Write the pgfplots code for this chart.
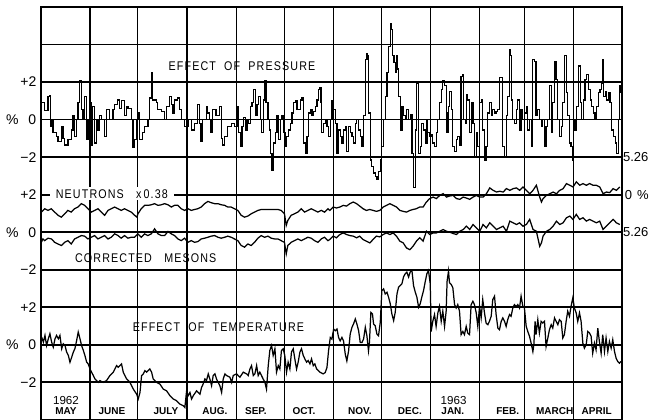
\documentclass[border=0pt]{standalone}
\usepackage{fontspec}
\setmainfont{Liberation Sans}
\newfontfamily\spaced[LetterSpace=9, FakeStretch=0.85]{Liberation Sans}
\usepackage{pgfplots}
\pgfplotsset{compat=1.18}
\usepackage{pgfplotstable}
\usetikzlibrary{calc}

% Effect of pressure (%), day of year from 1 May 1962
\pgfplotstableread{
d v
0 0.9
2.5 0.5
4.6 1.25
5.6 1.3
6.3 -0.35
6.7 0
7.7 -0.7
9.8 -0.9
10.9 -1.15
13.0 -0.35
14.0 -1.0
15.1 -1.35
17.2 -1.05
19.2 -0.55
20.3 0.2
21.3 -0.9
22.4 0
23.4 0.9
24.5 2.1
25.5 0.55
26.6 0
27.6 1.25
28.7 -1.05
29.7 0
30.8 0.9
31.8 -1.4
32.8 0.7
33.9 -1.25
34.9 0
36.0 -0.55
37.0 0.2
38.1 0
40.2 -0.9
41.2 0.55
43.3 0
45.4 0.55
46.4 0.8
48.5 1.05
49.6 0.6
50.6 1.0
52.7 0.2
53.8 0.7
54.8 0.6
56.9 0
58.0 -1.5
59.0 -1.05
60.0 0
61.1 0.35
62.1 -1.05
64.2 -0.7
65.3 -0.35
67.4 0
68.4 1.15
69.5 2.5
70.5 1.05
72.6 0.9
73.6 0.55
75.7 0.45
77.8 0
78.9 0.7
81.0 1.25
82.0 0.8
83.1 0.35
84.1 1.05
86.2 1.15
87.2 0.55
88.3 0
90.4 -0.35
92.5 0
94.6 -0.55
96.7 -0.2
98.7 0.8
99.8 -0.2
100.8 -1.15
101.9 0
104.0 0.7
105.0 0.35
106.1 0
107.1 -0.7
108.2 0.55
110.2 0.2
112.3 0.7
113.4 -1.0
114.4 -1.35
115.5 -0.9
117.6 -0.35
119.7 -0.2
121.8 -0.35
123.3 0.7
124.4 -0.7
125.4 -1.45
126.5 -0.35
127.5 0.1
128.6 -0.55
129.6 0
130.7 -0.2
131.7 0.7
132.8 0.9
133.8 1.6
134.9 0.2
135.9 0.8
137.0 1.25
138.0 0
139.0 -0.7
140.1 1.05
140.7 2.05
141.6 0.9
142.8 0
143.7 -0.55
144.3 -1.8
145.3 -2.7
146.4 -1.25
147.4 -0.7
148.5 0.2
149.5 -1.05
150.6 0
151.6 0.2
152.7 -0.7
153.7 -1.45
154.7 -0.9
155.8 -0.55
156.8 -0.2
157.9 0.35
158.9 0.9
160.0 1.0
161.0 0.55
162.1 0.55
163.1 1.05
164.2 1.15
165.2 -1.25
166.3 -1.8
167.3 -0.9
168.4 0.35
169.4 0.55
170.5 0.2
171.5 0.45
172.5 0.7
173.6 1.05
174.6 1.6
175.3 1.7
176.1 0.9
176.7 -0.7
177.8 -0.2
178.8 0
179.9 -0.35
180.9 -0.9
182.0 0
183.0 1.0
184.1 0.55
185.1 -0.2
186.2 -1.8
187.2 -0.55
188.2 -0.9
189.3 -1.25
190.3 -0.55
191.4 -0.35
192.4 -1.7
193.5 -0.35
194.5 -0.7
195.6 -0.9
196.6 -1.25
197.7 -0.2
198.7 0
199.8 -0.55
200.8 -0.9
201.9 -1.45
202.9 0.2
204.0 3.2
205.0 3.5
205.6 3.4
206.0 0.35
207.1 -2.15
208.1 -2.5
209.2 -2.85
210.2 -3.05
211.3 -3.2
212.3 -2.75
213.4 -2.15
214.4 -1.45
215.5 0
216.5 1.25
217.6 2.5
218.6 3.9
219.7 5.1
220.3 4.8
221.1 3.4
222.0 3.05
222.8 2.5
223.4 3.4
224.1 2.7
224.9 1.25
225.9 -0.55
227.0 0.7
228.0 0.2
229.1 0
230.1 0.55
231.2 0
232.2 0.25
233.3 -1.8
234.3 -3.6
235.4 -0.55
236.4 1.95
237.5 -1.8
238.5 -1.45
239.5 -0.2
240.6 -0.55
241.6 -1.25
242.7 0
243.3 -0.7
244.3 -0.9
245.4 -0.8
246.4 -1.25
247.5 -1.45
248.5 -0.7
249.6 0
250.6 0.9
251.7 1.6
252.7 2.05
253.8 1.8
254.8 0.35
255.4 -0.7
256.3 0.7
256.9 1.5
258.0 0.55
259.0 -1.45
260.1 -1.7
261.1 -1.05
262.1 -0.9
263.2 -1.35
264.2 2.3
265.3 2.4
265.9 0
266.8 -0.2
267.4 1.35
268.4 1.05
269.5 -0.7
270.5 0.9
271.6 -0.2
272.6 -2.0
273.7 -0.7
274.7 -1.45
275.8 0.9
276.8 1.05
277.8 -0.55
278.9 -2.15
279.9 -1.45
281.0 0.35
282.0 0.9
283.1 0.2
284.1 0.55
285.2 0.35
286.2 0.45
287.3 0.55
288.3 2.25
289.4 2.25
290.4 -1.45
291.5 -2.0
292.5 0.2
293.5 1.25
294.6 3.75
295.2 3.4
296.1 1.05
296.7 0
297.7 -0.2
298.8 0.55
299.8 1.05
300.9 -0.55
301.9 0.55
303.0 0
304.0 0.35
305.1 0.7
306.1 -0.55
307.2 0
308.2 -1.45
309.3 3.2
310.3 3.1
311.3 0.2
312.4 0.55
313.4 0
314.5 -0.35
315.5 0
316.6 -1.45
317.6 -0.35
318.7 0
319.7 1.8
320.8 -0.7
321.8 0.9
322.9 3.1
323.9 2.15
325.0 0
326.0 -0.9
327.1 -0.35
328.1 0.9
329.1 3.4
330.2 1.45
331.2 0.2
332.3 -1.25
333.3 -1.45
334.0 -2.15
334.8 0
335.8 -0.55
336.9 0.7
337.9 2.85
339.0 0.9
340.0 0
341.1 1.05
342.1 2.15
343.2 2.4
344.2 1.6
345.3 1.05
346.3 0.7
347.4 0.35
348.4 0
349.5 0.7
350.5 1.45
351.5 1.6
352.6 1.95
353.2 3.2
353.9 1.25
354.7 1.5
355.7 1.05
356.8 1.45
357.8 0.9
358.9 -0.55
359.9 -0.9
361.0 -1.25
362.0 -1.8
363.1 0
363.7 1.8
364.3 1.45
365 1.45
}\pressure

% Neutrons x 0.38 (%), zero on the right-hand scale
\pgfplotstableread{
d v
0.4 -0.93
2.5 -0.75
4.6 -0.84
6.7 -0.75
8.8 -0.93
10.9 -1.1
13.0 -1.2
15.1 -1.02
17.1 -0.84
19.2 -0.93
21.3 -0.75
23.4 -0.66
25.5 -0.48
27.6 -0.57
29.7 -0.75
31.8 -0.93
33.9 -0.84
36.0 -0.75
38.1 -0.93
40.2 -1.1
42.3 -0.84
44.4 -0.75
46.5 -0.66
48.6 -0.75
50.6 -0.84
52.7 -0.75
54.8 -0.84
56.9 -0.93
59.0 -1.1
60.5 -1.2
61.1 -1.02
63.2 -0.75
65.3 -0.57
67.4 -0.57
69.5 -0.54
71.6 -0.48
73.7 -0.57
75.8 -0.54
77.9 -0.48
80.0 -0.54
82.1 -0.66
84.1 -0.57
86.2 -0.57
88.3 -0.75
90.4 -0.84
92.5 -0.75
94.6 -0.84
96.7 -0.79
98.8 -0.75
100.9 -0.66
103.0 -0.48
105.1 -0.36
107.2 -0.43
109.3 -0.48
111.4 -0.48
113.5 -0.54
115.6 -0.57
117.6 -0.66
119.7 -0.66
121.8 -0.75
123.9 -0.84
126.0 -1.1
128.1 -1.2
130.2 -1.14
132.3 -1.02
134.4 -0.93
136.5 -0.84
138.6 -0.79
140.7 -0.79
142.8 -0.79
144.9 -0.79
147.0 -0.79
149.1 -0.79
151.1 -0.84
153.2 -1.02
154.3 -1.64
155.3 -1.375
157.4 -1.1
159.5 -1.02
161.6 -0.93
163.7 -0.75
165.8 -0.93
167.9 -0.84
170.0 -0.75
172.1 -0.84
174.2 -0.93
176.3 -0.84
178.4 -0.93
180.5 -0.75
181.7 -0.84
183.8 -0.66
185.9 -0.71
188.0 -0.66
190.1 -0.57
192.2 -0.61
194.3 -0.48
196.4 -0.39
198.5 -0.48
200.5 -0.61
202.6 -0.75
204.7 -0.84
206.8 -0.79
208.9 -0.84
211.0 -0.89
213.1 -0.84
215.2 -0.66
217.3 -0.57
219.4 -0.48
221.5 -0.57
223.6 -0.66
225.7 -0.84
227.8 -0.89
229.9 -0.93
232.0 -0.84
234.0 -0.79
236.1 -0.75
238.2 -0.66
240.3 -0.66
242.4 -0.39
244.5 -0.21
246.6 -0.13
248.7 -0.21
250.8 -0.04
252.9 0.05
255.0 -0.13
257.1 -0.07
259.2 -0.04
261.3 -0.21
263.4 -0.25
265.5 -0.13
267.5 -0.18
269.6 -0.25
271.7 -0.13
273.8 -0.04
275.9 -0.13
278.0 -0.13
280.1 0.05
282.2 0.36
284.3 0.23
286.4 0.14
288.5 0.18
290.6 0.14
292.7 0.32
294.8 0.23
296.9 0.32
299.0 0.36
301.0 0.23
303.1 0.41
305.2 0.23
307.3 0.05
309.4 0.23
311.5 0.5
313.6 -0.13
314.7 -0.39
315.7 -0.21
317.8 -0.04
319.9 0.05
322.0 0.14
324.1 0.05
326.2 0.23
328.3 0.32
330.4 0.59
332.5 0.5
334.5 0.41
336.6 0.68
338.7 0.5
340.8 0.59
342.9 0.5
345.0 0.59
347.1 0.5
349.2 0.5
351.3 0.41
353.4 0.05
355.5 0.14
357.6 0.11
359.7 0.32
361.8 0.23
363.9 0.41
}\neutrons

% Corrected mesons (%)
\pgfplotstableread{
d v
0.4 -0.54
1.4 -0.36
2.5 -0.45
4.6 -0.32
6.7 -0.36
8.8 -0.54
10.9 -0.63
13.0 -0.71
15.1 -0.54
17.1 -0.45
19.2 -0.63
21.3 -0.36
23.4 -0.27
25.5 -0.18
27.6 -0.21
29.7 -0.36
31.8 -0.27
33.9 -0.18
36.0 -0.36
38.1 -0.27
40.2 -0.18
42.3 -0.36
44.4 -0.27
46.5 -0.09
48.6 -0.18
50.6 -0.32
52.7 -0.18
54.8 -0.32
56.9 -0.27
59.0 -0.27
61.1 -0.09
63.2 -0.27
65.3 -0.09
67.4 -0.18
69.5 -0.09
71.6 0.18
73.7 -0.09
75.8 -0.18
77.9 -0.18
80.0 0.04
82.1 -0.09
84.1 -0.18
86.2 -0.36
88.3 -0.45
90.4 -0.32
92.5 -0.54
94.6 -0.45
96.7 -0.54
98.8 -0.5
100.9 -0.36
103.0 -0.32
105.1 -0.27
107.2 -0.21
109.3 -0.18
111.4 -0.27
113.5 -0.32
115.6 -0.27
117.6 -0.21
119.7 -0.27
121.8 -0.36
123.9 -0.45
126.0 -0.71
128.1 -0.8
130.2 -0.63
132.3 -0.71
134.4 -0.54
136.5 -0.32
138.6 -0.18
140.7 -0.27
142.8 -0.21
144.9 -0.32
147.0 -0.36
149.1 -0.36
151.1 -0.45
153.2 -0.54
154.3 -1.16
155.3 -0.71
157.4 -0.54
159.5 -0.45
161.6 -0.36
163.7 -0.45
165.8 -0.36
167.9 -0.27
170.0 -0.32
172.1 -0.45
174.2 -0.54
176.3 -0.36
178.4 -0.27
180.5 -0.45
181.7 -0.39
183.8 -0.21
185.9 -0.3
188.0 -0.125
190.1 -0.04
192.2 -0.125
194.3 -0.18
196.4 -0.21
198.5 -0.3
200.5 -0.21
202.6 -0.39
204.7 -0.48
206.8 -0.57
208.9 -0.39
211.0 -0.21
213.1 -0.25
215.2 -0.125
217.3 -0.04
219.4 -0.125
221.5 -0.04
223.6 -0.21
225.7 -0.48
227.8 -0.57
229.9 -0.84
232.0 -0.93
234.0 -0.75
236.1 -0.48
238.2 -0.3
240.3 -0.48
242.4 0.05
244.5 -0.125
246.6 -0.04
248.7 -0.04
250.8 0.05
252.9 0.14
255.0 0.05
257.1 0
259.2 -0.07
261.3 -0.125
263.4 0.05
265.5 0.14
267.5 0.32
269.6 0.14
271.7 0.41
273.8 0.23
275.9 0.05
278.0 0.41
280.1 0.23
282.2 0.5
284.3 0.32
286.4 0.14
288.5 0.23
290.6 0.32
292.7 0.05
294.8 0.59
296.9 0.5
299.0 0.41
301.0 0.5
303.1 0.32
305.2 0.41
307.3 0.68
309.4 0.14
311.5 0.05
313.6 -0.75
314.7 -0.57
315.7 -0.21
317.8 0.05
319.9 0.14
322.0 0.32
324.1 0.59
326.2 0.41
328.3 0.5
330.4 0.77
332.5 0.86
334.5 0.68
336.6 0.95
338.7 0.68
340.8 0.77
342.9 0.59
345.0 0.68
347.1 0.59
349.2 0.5
351.3 0.59
353.4 0.14
355.5 0.32
357.6 0.5
359.7 0.68
361.8 0.5
363.9 0.41
}\mesons

% Effect of temperature (%)
\pgfplotstableread{
d v
0.6 0.41
1.7 0.14
2.7 0.5
3.7 -0.04
4.8 0.32
5.8 0.59
6.9 0.14
7.9 -0.125
9.0 0.32
10.0 0.5
11.1 0.32
12.1 0.5
13.2 -0.21
14.2 0.05
15.3 -0.04
16.3 -0.39
17.4 -0.57
18.4 -0.93
19.5 -0.66
20.5 -0.39
21.5 -0.21
22.6 0.23
23.6 0.68
24.7 0.32
25.7 -0.04
26.8 -0.3
27.8 -0.57
28.9 -0.93
29.9 -1.02
31.0 -1.29
32.0 -1.46
33.1 -1.64
34.1 -1.82
35.1 -1.91
36.2 -2.0
37.2 -1.91
39.3 -2.0
41.4 -1.91
43.5 -1.64
45.6 -1.46
46.6 -1.29
47.7 -1.11
48.7 -1.2
49.8 -1.11
50.8 -1.02
51.9 -1.46
52.9 -1.64
54.0 -1.82
56.1 -2.0
58.2 -2.36
60.3 -2.63
61.3 -2.89
62.4 -2.54
63.4 -1.64
64.5 -1.55
65.5 -1.375
66.6 -1.46
68.6 -1.29
69.7 -1.46
70.7 -1.82
72.8 -2.0
74.9 -2.09
77.0 -2.36
79.1 -2.45
81.2 -2.71
83.3 -2.89
85.4 -2.98
87.5 -3.16
89.6 -3.25
90.6 -3.34
91.7 -2.45
92.7 -2.71
93.8 -2.54
94.8 -2.89
95.9 -2.71
98.0 -2.45
100.1 -2.63
101.1 -2.27
102.1 -2.09
103.2 -1.82
104.2 -1.91
105.3 -1.55
106.3 -1.82
107.4 -2.18
108.4 -1.64
109.5 -1.55
110.5 -1.82
112.6 -2.18
113.7 -2.54
114.7 -1.82
115.8 -1.55
116.8 -1.64
118.9 -1.73
120.0 -2.0
121.0 -1.64
123.1 -1.55
124.1 -1.64
125.2 -1.73
127.3 -1.46
129.4 -1.55
130.4 -1.64
131.5 -1.29
132.5 -1.11
133.6 -1.64
134.6 -1.55
135.7 -1.11
136.7 -1.64
137.7 -1.46
139.8 -1.82
140.9 -2.0
141.9 -2.36
143.0 -1.11
144.0 -0.3
145.1 -0.04
146.1 -0.57
147.2 -0.21
148.2 -1.46
149.3 -1.11
150.3 -1.29
151.3 -0.3
152.4 -0.21
153.4 -0.57
154.5 -1.46
155.5 -0.93
156.6 -1.29
157.6 -0.39
158.7 -0.21
159.7 -0.75
160.8 -1.29
161.8 -0.93
162.9 -0.39
163.9 -0.21
165.0 -0.57
166.0 -0.75
167.1 -0.93
168.1 -0.84
169.2 -1.02
170.2 -0.75
171.3 -1.11
172.3 -1.02
173.4 -1.29
175.5 -1.46
177.5 -1.55
178.8 -1.48
179.9 -1.21
180.9 -0.32
182.0 0.39
183.0 0.3
184.1 0.84
185.1 0.75
186.2 0.84
187.2 0.39
188.2 0.21
189.3 0.39
190.3 0.21
191.4 -0.5
192.4 -0.86
193.5 -0.32
194.5 0.57
195.6 0.93
196.6 1.11
197.7 1.375
198.7 1.11
199.8 0.75
200.8 0.125
201.9 0.125
202.9 0.3
204.0 0.93
205.0 0.48
206.0 -0.32
206.6 0.125
207.5 1.73
208.5 1.64
209.2 1.11
210.2 1.02
211.3 0.57
212.3 0.48
213.4 1.2
214.4 2.89
215.5 2.98
216.5 2.71
217.6 2.8
218.6 2.54
219.7 2.18
220.7 1.64
221.8 1.29
222.8 1.73
223.9 2.71
224.9 3.07
226.0 3.16
227.0 3.25
228.0 3.61
229.1 3.79
230.1 3.875
231.2 3.61
232.2 3.875
233.3 3.96
234.3 3.16
235.4 2.8
236.4 2.54
237.5 2.0
238.5 2.18
239.5 2.54
240.6 2.89
241.6 3.34
242.7 3.79
243.7 3.96
244.8 3.25
245.4 0.71
246.4 1.25
247.5 1.61
248.5 0.98
249.6 1.7
250.6 2.05
251.7 1.25
252.7 1.79
253.8 0.98
254.8 1.79
255.4 3.39
256.3 3.93
256.9 3.3
258.0 3.21
259.0 3.04
260.1 2.14
261.1 1.96
262.1 2.14
263.2 1.79
264.2 0.54
265.3 0.71
266.3 0.54
267.4 0.98
268.4 0.625
269.5 0.54
270.5 2.14
271.6 2.32
272.6 2.14
273.7 1.7
274.7 0.98
275.8 2.05
276.8 1.43
277.8 2.41
278.9 1.7
279.9 1.16
281.0 1.07
282.0 1.25
283.1 1.52
284.1 2.41
285.2 2.59
286.2 1.61
287.3 0.89
288.3 0.8
289.4 1.25
290.4 1.43
291.5 1.25
292.5 0.98
293.5 1.34
294.6 1.61
295.6 1.52
296.7 1.96
297.7 2.14
298.8 2.05
299.8 2.14
300.9 1.96
301.9 2.59
303.0 2.05
304.0 1.96
305.1 0.98
306.1 0.71
307.2 0.45
308.2 0.09
309.3 -0.36
309.9 0
310.7 1.25
311.3 0.54
312.4 1.34
313.4 0.625
314.5 1.25
315.5 1.16
316.6 1.25
317.6 -0.09
318.7 0.36
319.7 0.8
320.8 1.07
321.8 0.89
322.9 1.43
323.9 1.25
325.0 1.07
326.0 1.34
327.1 1.25
328.1 0.36
329.1 0.54
330.2 1.25
331.2 1.79
332.3 1.52
333.3 2.05
334.4 2.5
335.4 1.96
336.5 1.7
337.5 1.25
338.6 1.7
339.6 1.25
340.7 0.09
341.7 -0.18
342.8 0
343.8 0.71
344.9 0.625
345.9 0.45
346.9 -0.45
348.0 0.09
349.0 -0.27
350.1 0.89
351.1 0.18
352.2 -0.45
353.2 0.54
354.3 -0.36
355.3 0.36
356.4 -0.36
357.4 0.18
358.5 -0.18
359.5 0.27
360.6 -0.36
361.6 -0.71
362.6 -0.89
363.7 -0.98
364.7 -0.89
}\temperature

\begin{document}
\begin{tikzpicture}
\begin{axis}[
  scale only axis,
  width=290.5pt, height=206.5pt,
  xmin=0, xmax=365, ymin=0, ymax=11,
  xtick={31,61,92,123,153,184,214,245,276,304,335},
  xticklabels={},
  ytick={1,2,3,4,5,6,7,8,9,10},
  yticklabels={−2,{\%\hspace{5pt}0},+2,−2,{\%\hspace{5pt}0},+2,−2,{\%\hspace{5pt}0},+2,{}},
  xmajorgrids, ymajorgrids,
  major x grid style={black, line width=0.6pt},
  major y grid style={black, line width=0.9pt},
  axis line style={black, line width=1pt},
  major tick length=0pt,
  yticklabel style={font=\fontsize{7}{8}\selectfont, inner sep=0pt, xshift=-2pt},
]
\addplot[const plot, black, line width=0.62pt] table[x=d, y expr=\thisrow{v}/2+8] {\pressure};
\addplot[black, line width=0.62pt] table[x=d, y expr=\thisrow{v}/2+6] {\neutrons};
\addplot[black, line width=0.62pt] table[x=d, y expr=\thisrow{v}/2+5] {\mesons};
\addplot[black, line width=0.62pt] table[x=d, y expr=\thisrow{v}/2+2] {\temperature};

\node[font=\spaced\fontsize{6.3}{7}\selectfont] at (axis cs:126.5,9.41) {EFFECT\ \ OF\ \ PRESSURE};
\node[font=\spaced\fontsize{6.3}{7}\selectfont, fill=white, inner xsep=3pt, inner ysep=1pt, anchor=west] at (axis cs:5.5,6.02) {NEUTRONS\ \ \ x\,0.38};
\node[font=\spaced\fontsize{6.3}{7}\selectfont] at (axis cs:66,4.32) {CORRECTED\ \ \ MESONS};
\node[font=\spaced\fontsize{6.3}{7}\selectfont] at (axis cs:111.7,2.47) {EFFECT\ \ OF\ \ TEMPERATURE};

\node[font=\fontsize{5.8}{6}\selectfont] at (axis cs:15.9,0.52) {1962};
\node[font=\fontsize{5.8}{6}\selectfont] at (axis cs:259.5,0.52) {1963};
\node[font=\bfseries\fontsize{5}{6}\selectfont] at (axis cs:15.9,0.23) {MAY};
\node[font=\bfseries\fontsize{5}{6}\selectfont] at (axis cs:44.8,0.23) {JUNE};
\node[font=\bfseries\fontsize{5}{6}\selectfont] at (axis cs:78.7,0.23) {JULY};
\node[font=\bfseries\fontsize{5}{6}\selectfont] at (axis cs:109.5,0.23) {AUG.};
\node[font=\bfseries\fontsize{5}{6}\selectfont] at (axis cs:135.2,0.23) {SEP.};
\node[font=\bfseries\fontsize{5}{6}\selectfont] at (axis cs:165.4,0.23) {OCT.};
\node[font=\bfseries\fontsize{5}{6}\selectfont] at (axis cs:200.6,0.23) {NOV.};
\node[font=\bfseries\fontsize{5}{6}\selectfont] at (axis cs:232,0.23) {DEC.};
\node[font=\bfseries\fontsize{5}{6}\selectfont] at (axis cs:259,0.23) {JAN.};
\node[font=\bfseries\fontsize{5}{6}\selectfont] at (axis cs:293.5,0.23) {FEB.};
\node[font=\bfseries\fontsize{5}{6}\selectfont] at (axis cs:323,0.23) {MARCH};
\node[font=\bfseries\fontsize{5}{6}\selectfont] at (axis cs:349.4,0.23) {APRIL};
\coordinate (r7) at (axis cs:365,7);
\coordinate (r6) at (axis cs:365,6);
\coordinate (r5) at (axis cs:365,5);
\end{axis}
\node[anchor=west, inner sep=0.6pt, font=\fontsize{6.5}{7}\selectfont] at (r7) {5.26};
\node[anchor=west, inner sep=0.6pt, font=\fontsize{6.5}{7}\selectfont] at (r5) {5.26};
\node[anchor=west, inner xsep=1.5pt, inner ysep=0.6pt, font=\fontsize{6.5}{7}\selectfont] at (r6) {0\hspace{2.5pt}\%};
\pgfresetboundingbox
\path ($(current axis.south west)+(-20.35pt,0pt)$) rectangle ($(current axis.north east)+(14.25pt,3.5pt)$);
\end{tikzpicture}
\end{document}
